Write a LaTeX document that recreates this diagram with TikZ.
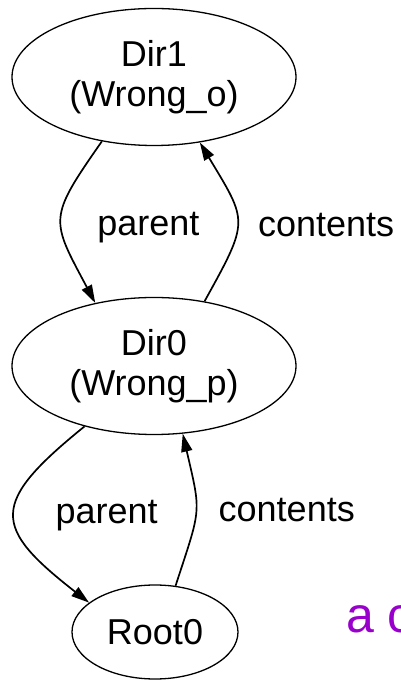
\documentclass[tikz,border=0pt]{standalone}
\usepackage{fontspec}
\setmainfont{Liberation Sans}
\usetikzlibrary{arrows.meta, shapes.geometric}
\definecolor{mypurple}{RGB}{153,0,204}

\tikzset{
  dirnode/.style={draw, ellipse, line width=1.3pt, inner sep=0pt, minimum width=284pt, minimum height=137pt, align=center},
  link/.style={-{Triangle[length=18pt, width=11pt]}, line width=1.7pt},
  lbl/.style={inner sep=0pt}
}

\begin{document}
\begin{tikzpicture}[x=1pt, y=1pt, font=\fontsize{36}{40}\selectfont]
\clip (0,0) rectangle (400,680);
\node[dirnode] (dir1) at (154,603) {Dir1\\(Wrong\_o)};
\node[dirnode] (dir0) at (154,314) {Dir0\\(Wrong\_p)};
\node[dirnode, minimum width=166pt, minimum height=94pt] (root0) at (155,48) {Root0};
% upper pair of links
\draw[link] (dir1.231) to[out=235, in=118, looseness=1.5] node[lbl, right=35pt, yshift=-8pt] {parent} (dir0.133);
\draw[link] (dir0.52) to[out=61, in=301, looseness=1.5] node[lbl, right=20pt, yshift=-4pt] {contents} (dir1.305);
% lower pair of links
\draw[link] (dir0.221) to[out=219, in=142, looseness=1.78] node[lbl, right=40pt] {parent} (root0.156);
\draw[link] (root0.66) to[out=72, in=283, looseness=1.4] node[lbl, right=22pt] {contents} (dir0.293);
\node[anchor=base west, inner sep=0pt, text=mypurple, font=\fontsize{50}{60}\selectfont] (note) at (346,47) {a c};
\end{tikzpicture}
\end{document}
